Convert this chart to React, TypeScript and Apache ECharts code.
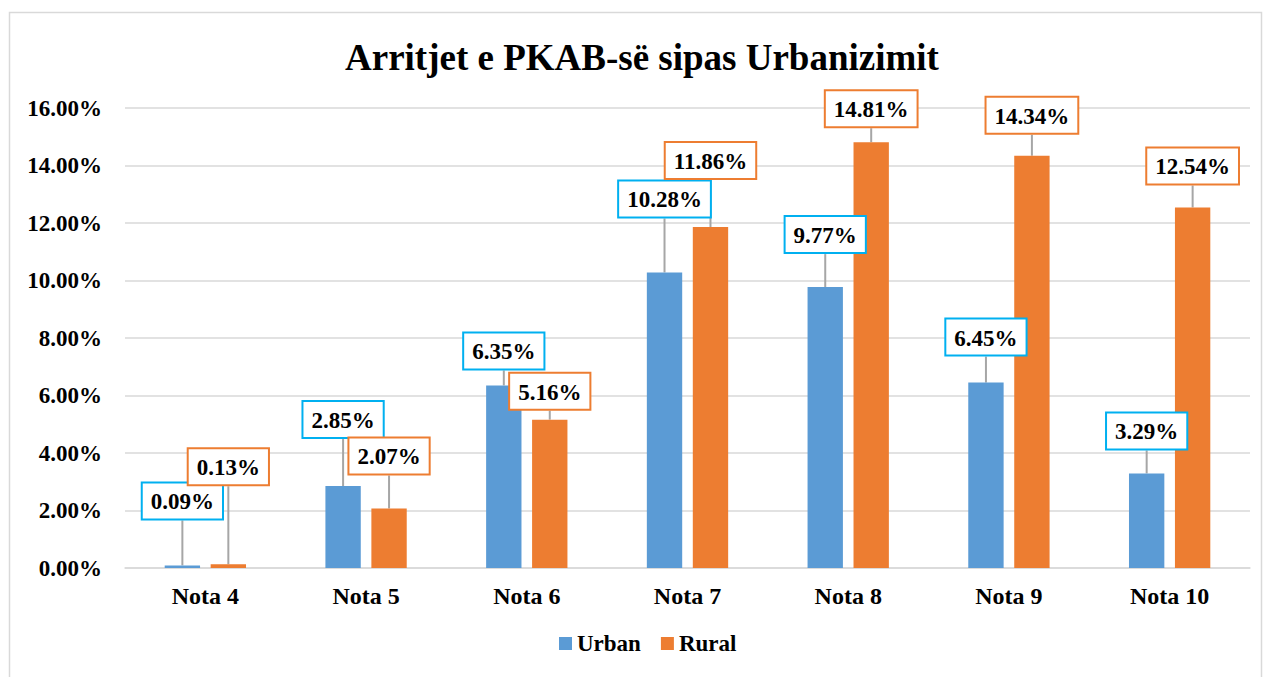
import React, { useEffect, useRef } from "react";
import * as echarts from "echarts";

const categories = ["Nota 4", "Nota 5", "Nota 6", "Nota 7", "Nota 8", "Nota 9", "Nota 10"];
const urban = [0.09, 2.85, 6.35, 10.28, 9.77, 6.45, 3.29];
const rural = [0.13, 2.07, 5.16, 11.86, 14.81, 14.34, 12.54];
const yTicks = { min: 0, max: 16, interval: 2 };

// label lift (px) above bar top, styling only
const urbanLift = [47, 49, 17, 56, 35, 28, 25];
const ruralLift = [80, 35, 11, 49, 16, 23, 24];

const FONT = '"Liberation Serif", "Times New Roman", serif';

export default function App() {
  const ref = useRef<HTMLDivElement>(null);
  useEffect(() => {
    document.body.style.margin = "0";
    const chart = echarts.init(ref.current!, null, { renderer: "svg" });
    const labelBase = (color: string) => ({
      show: true,
      position: "top",
      distance: 0,
      formatter: (p: any) => p.value.toFixed(2) + "%",
      fontFamily: FONT,
      fontWeight: "bold",
      fontSize: 23,
      color: "#000",
      backgroundColor: "#fff",
      borderColor: color,
      borderWidth: 2,
      padding: [7, 8, 5, 8],
    });
    chart.setOption({
      animation: false,
      backgroundColor: "#fff",
      textStyle: { fontFamily: FONT },
      title: {
        text: "Arritjet e PKAB-së sipas Urbanizimit",
        left: 340,
        top: 34,
        textStyle: { fontFamily: FONT, fontWeight: "bold", fontSize: 37, color: "#000" },
      },
      graphic: [
        {
          type: "rect",
          shape: { x: 9.5, y: 12.5, width: 1252, height: 700 },
          style: { fill: "none", stroke: "#d9d9d9", lineWidth: 1.5 },
          silent: true,
          z: -10,
        },
      ],
      legend: {
        bottom: 17,
        left: 554,
        itemWidth: 13,
        itemHeight: 13,
        itemGap: 20,
        icon: "rect",
        textStyle: { fontFamily: FONT, fontWeight: "bold", fontSize: 23, color: "#000" },
        data: ["Urban", "Rural"],
      },
      grid: { left: 125, right: 19, top: 108, bottom: 109, containLabel: false },
      xAxis: {
        type: "category",
        data: categories,
        axisTick: { show: false },
        axisLine: { lineStyle: { color: "#d9d9d9", width: 1.5 } },
        axisLabel: { fontFamily: FONT, fontWeight: "bold", fontSize: 24, color: "#000", margin: 16 },
      },
      yAxis: {
        type: "value",
        min: yTicks.min,
        max: yTicks.max,
        interval: yTicks.interval,
        axisLine: { show: false },
        axisTick: { show: false },
        splitLine: { lineStyle: { color: "#d9d9d9", width: 1.5 } },
        axisLabel: {
          fontFamily: FONT,
          fontWeight: "bold",
          fontSize: 23,
          color: "#000",
          margin: 23,
          formatter: (v: number) => v.toFixed(2) + "%",
        },
      },
      series: [
        {
          name: "Urban",
          type: "bar",
          data: urban,
          barWidth: "22%",
          barGap: "30%",
          itemStyle: { color: "#5B9BD5" },
          label: labelBase("#00B0F0"),
          labelLine: { show: true, lineStyle: { color: "#a6a6a6", width: 2 } },
          labelLayout: (p: any) => ({ dy: -urbanLift[p.dataIndex] }),
        },
        {
          name: "Rural",
          type: "bar",
          data: rural,
          barWidth: "22%",
          itemStyle: { color: "#ED7D31" },
          label: labelBase("#ED7D31"),
          labelLine: { show: true, lineStyle: { color: "#a6a6a6", width: 2 } },
          labelLayout: (p: any) => ({ dy: -ruralLift[p.dataIndex] }),
        },
      ],
    });
    return () => chart.dispose();
  }, []);
  return <div ref={ref} style={{ width: 1269, height: 677, position: "absolute", left: 0, top: 0 }} />;
}
